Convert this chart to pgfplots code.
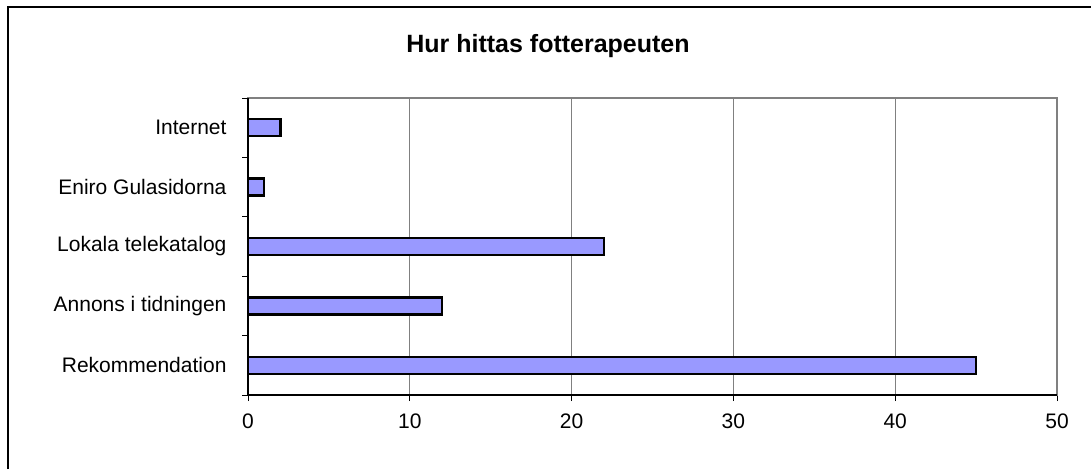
\documentclass[border=0pt]{standalone}
\usepackage{fontspec}
\setmainfont{Liberation Sans}
\usepackage{pgfplots}
\pgfplotsset{compat=1.18}
\definecolor{barfill}{HTML}{9999FF}
\definecolor{gridgray}{HTML}{808080}
\begin{document}
\begin{tikzpicture}[x=1pt,y=1pt]
\path[use as bounding box] (0,0) rectangle (1091,469);
\draw[black, line width=1.5pt] (8,0) -- (8,462) -- (1091,462);
\node[font=\fontsize{25}{29}\selectfont\bfseries] at (548,423) {Hur hittas fotterapeuten};
\begin{axis}[
  at={(248pt,74pt)}, anchor=south west,
  width=809pt, height=297pt, scale only axis,
  xbar, bar width=17pt,
  xmin=0, xmax=50,
  ymin=-0.5, ymax=4.5,
  xtick={0,10,20,30,40,50},
  ytick={0,1,2,3,4},
  yticklabels={Rekommendation,Annons i tidningen,Lokala telekatalog,Eniro Gulasidorna,Internet},
  minor ytick={-0.5,0.5,1.5,2.5,3.5,4.5},
  major y tick style={draw=none},
  xtick pos=bottom, ytick pos=left,
  minor tick length=6pt,
  major tick length=6pt,
  tick align=outside,
  tick style={black, line width=1pt},
  xmajorgrids, major x grid style={gridgray, line width=1pt},
  axis line style={gridgray, line width=2pt},
  tick label style={font=\fontsize{21}{25}\selectfont},
  xticklabel style={yshift=-9pt},
  yticklabel style={xshift=-12pt},
  /pgf/number format/assume math mode=true,
  clip=false,
]
\addplot[fill=barfill, draw=black, line width=2.5pt] coordinates {(45,0) (12,1) (22,2) (1,3) (2,4)};
\draw[black, line width=2pt] (rel axis cs:0,1) -- (rel axis cs:0,0) -- (rel axis cs:1,0);
\end{axis}
\end{tikzpicture}
\end{document}
